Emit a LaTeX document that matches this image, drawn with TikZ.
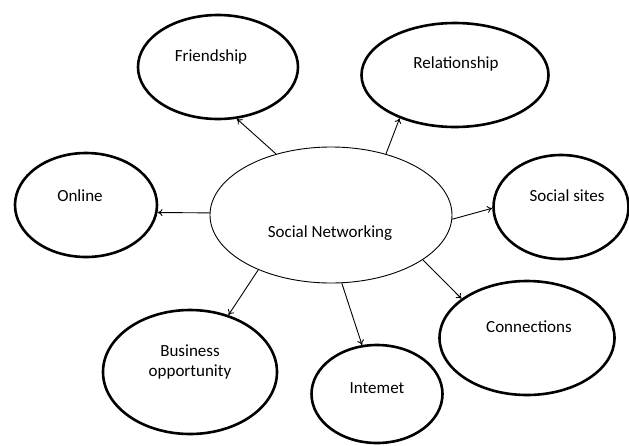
\documentclass[tikz,border=0pt]{standalone}
\usepackage{fontspec}
\setmainfont{Carlito}
\usetikzlibrary{shapes.geometric,arrows.meta}

\begin{document}
\begin{tikzpicture}[
		x=1pt,y=-1pt,
		every node/.style={font=\fontsize{17}{20}\selectfont},
		bubble/.style={ellipse,draw,line width=2.6pt,inner sep=0pt},
		hub/.style={ellipse,draw,line width=0.9pt,inner sep=0pt},
		word/.style={align=center,inner sep=0pt},
		arr/.style={line width=0.9pt,-{To[length=5pt,width=7pt]}}
		]
		\useasboundingbox (0,0) rectangle (629,445);
		\node[hub,minimum width=242pt,minimum height=136pt] (sn) at (331,215) {};
		\node[word] (sn-t) at (330,233) {Social Networking};
		\node[bubble,minimum width=160pt,minimum height=104pt] (friend) at (218,67) {};
		\node[word] (friend-t) at (211,57) {Friendship};
		\node[bubble,minimum width=142pt,minimum height=104pt] (online) at (86,205) {};
		\node[word] (online-t) at (80,196) {Online};
		\node[bubble,minimum width=187pt,minimum height=104pt] (relation) at (455,75) {};
		\node[word] (relation-t) at (456,64) {Relationship};
		\node[bubble,minimum width=135pt,minimum height=104pt] (sites) at (561,207) {};
		\node[word] (sites-t) at (567,196) {Social sites};
		\node[bubble,minimum width=174pt,minimum height=124pt] (business) at (190,372) {};
		\node[word] (business-t) at (190,362) {Business\\opportunity};
		\node[bubble,minimum width=131pt,minimum height=98pt] (internet) at (377,394) {};
		\node[word] (internet-t) at (377,388) {Intemet};
		\node[bubble,minimum width=175pt,minimum height=114pt] (connect) at (527,338) {};
		\node[word] (connect-t) at (529,327) {Connections};
		\draw[arr] (sn.132) -- (friend.-70);
		\draw[arr] (sn.179) -- (online.-6);
		\draw[arr] (sn.48) -- (relation.218);
		\draw[arr] (sn.358) -- (sites.181);
		\draw[arr] (sn.217) -- (business.56);
		\draw[arr] (sn.279) -- (internet.107);
		\draw[arr] (sn.334) -- (connect.149);
	\end{tikzpicture}
\end{document}
